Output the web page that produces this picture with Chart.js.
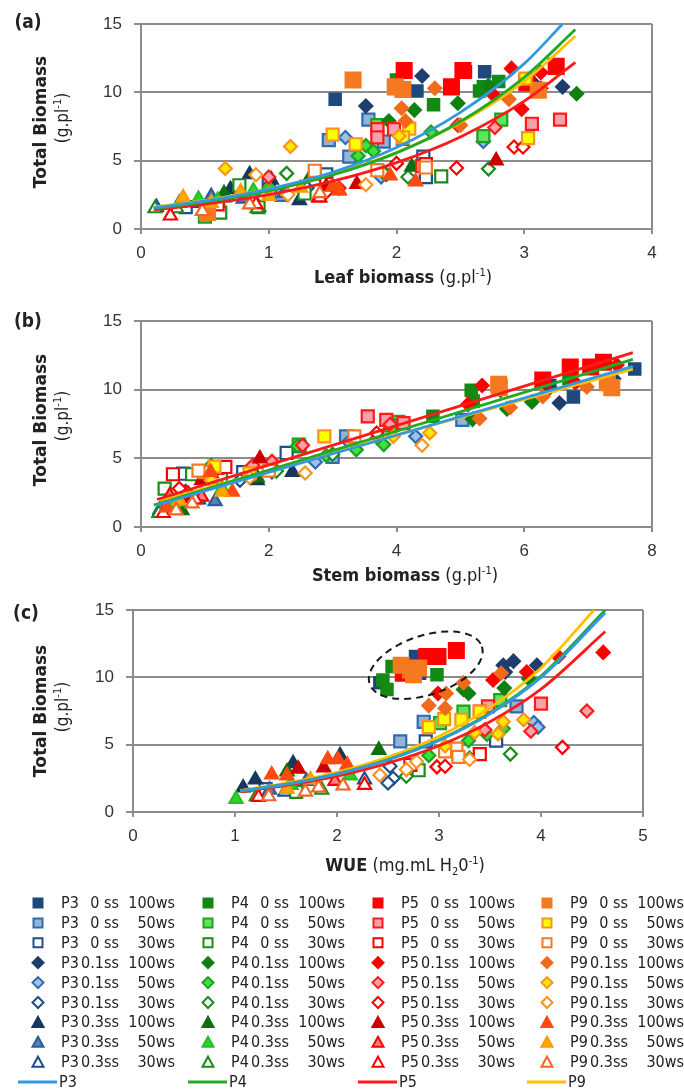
<!DOCTYPE html>
<html>
<head>
<meta charset="utf-8">
<script src="https://cdn.jsdelivr.net/npm/chart.js@4.4.1/dist/chart.umd.min.js"></script>
<style>
  body { margin: 0; background: #fff; }
  #page { position: relative; width: 684px; height: 1090px; overflow: hidden; background: #fff;
          font-family: "Liberation Sans Narrow", "DejaVu Sans Condensed", "Roboto", sans-serif; color: #222; }
  #page canvas { position: absolute; left: 0; }
  .t { position: absolute; white-space: nowrap; transform: translate(-50%, -50%); line-height: 1; }
  .panel { font-weight: bold; font-size: 19px; }
  .ytitle { transform: translate(-50%, -50%) rotate(-90deg); }
  .ybold { font-family: "DejaVu Sans", sans-serif; font-weight: bold; font-size: 17px; }
  .yunit { font-size: 17px; }
  .xtitle { font-size: 18px; }
  .xtitle b { font-weight: bold; }
  sup { font-size: 11px; vertical-align: 7px; line-height: 0; }
  sub { font-size: 11px; vertical-align: -4px; line-height: 0; }
  .lg { position: absolute; white-space: nowrap; font-size: 16px; line-height: 1; transform: translateY(-50%); }
</style>
</head>
<body>
<div id="page">
  <canvas id="chartLeaf" width="684" height="300" style="top:0px"></canvas>
  <canvas id="chartStem" width="684" height="300" style="top:297px"></canvas>
  <canvas id="chartWue" width="684" height="300" style="top:586px"></canvas>
  <canvas id="legendMarks" width="684" height="210" style="top:880px"></canvas>

  <div class="t panel" style="left:28px;top:21px">(a)</div>
  <div class="t ytitle ybold" style="left:40px;top:122px">Total Biomass</div>
  <div class="t ytitle yunit" style="left:62px;top:118px">(g.pl<sup>-1</sup>)</div>
  <div class="t xtitle" style="left:403px;top:277px"><b>Leaf biomass</b> (g.pl<sup>-1</sup>)</div>

  <div class="t panel" style="left:28px;top:320px">(b)</div>
  <div class="t ytitle ybold" style="left:40px;top:420px">Total Biomass</div>
  <div class="t ytitle yunit" style="left:62px;top:416px">(g.pl<sup>-1</sup>)</div>
  <div class="t xtitle" style="left:405px;top:575px"><b>Stem biomass</b> (g.pl<sup>-1</sup>)</div>

  <div class="t panel" style="left:26px;top:612px">(c)</div>
  <div class="t ytitle ybold" style="left:40px;top:711px">Total Biomass</div>
  <div class="t ytitle yunit" style="left:62px;top:707px">(g.pl<sup>-1</sup>)</div>
  <div class="t xtitle" style="left:405px;top:865px"><b>WUE</b> (mg.mL H<sub>2</sub>0<sup>-1</sup>)</div>

  <div id="legendText"></div>
</div>

<script>
// ---- categories ----
const plants = ['P3', 'P4', 'P5', 'P9'];
const ssLabels = ['0 ss', '0 ss', '0 ss', '0.1ss', '0.1ss', '0.1ss', '0.3ss', '0.3ss', '0.3ss'];
const wsLabels = ['100ws', '50ws', '30ws', '100ws', '50ws', '30ws', '100ws', '50ws', '30ws'];

// ---- (a) Leaf biomass vs total biomass, per treatment [x, y] ----
const leafP3 = [
  [[1.52, 9.5], [2.16, 10.1], [2.54, 11.5], [2.69, 11.5]],
  [[1.47, 6.5], [1.63, 5.3], [1.78, 8.0], [1.9, 6.4], [2.05, 6.6], [1.1, 2.5]],
  [[2.23, 3.8], [2.21, 5.3], [1.0, 3.3], [0.55, 1.6], [0.35, 1.6], [1.45, 4.0]],
  [[1.76, 9.0], [2.2, 11.2], [3.06, 10.8], [3.3, 10.4]],
  [[1.6, 6.7], [2.68, 6.4], [1.88, 3.8]],
  [[0.6, 2.0], [1.3, 3.0], [1.92, 4.0]],
  [[0.85, 4.0], [1.02, 3.6], [1.24, 2.1], [0.92, 1.6], [0.7, 2.9]],
  [[0.55, 2.4], [1.12, 2.6], [0.3, 1.9], [0.8, 2.2]],
  [[0.12, 1.6], [0.45, 1.9], [1.45, 3.0], [0.65, 2.3]]
];
const leafP4 = [
  [[2.29, 9.1], [2.65, 10.1], [2.8, 10.8], [2.0, 10.9], [2.68, 10.4]],
  [[2.82, 8.0], [2.68, 6.8], [1.85, 7.6], [0.5, 0.9]],
  [[2.35, 3.85], [0.77, 3.2], [0.62, 1.2], [0.92, 1.6], [1.28, 2.6]],
  [[1.94, 7.9], [2.14, 8.7], [2.48, 9.2], [3.41, 9.9], [2.72, 10.5]],
  [[1.76, 6.1], [1.82, 5.7], [1.7, 5.35], [2.27, 7.1]],
  [[1.14, 4.07], [2.09, 3.8], [2.72, 4.4], [1.9, 4.1]],
  [[2.12, 4.55], [1.33, 3.9], [0.65, 2.6]],
  [[0.88, 2.8], [0.45, 2.2], [1.0, 3.1], [0.6, 2.1]],
  [[0.11, 1.5], [0.91, 1.5], [0.28, 1.5]]
];
const leafP5 = [
  [[2.06, 11.6], [2.43, 10.4], [2.52, 11.6], [3.25, 11.9], [3.02, 10.7]],
  [[1.85, 7.3], [1.85, 6.7], [1.98, 7.3], [3.06, 7.7], [3.28, 8.0], [2.2, 4.6]],
  [[2.23, 4.75], [1.45, 3.3], [0.6, 1.8]],
  [[2.76, 9.8], [2.9, 11.75], [2.98, 8.77], [3.13, 11.45], [3.13, 10.3]],
  [[2.77, 7.43], [2.48, 7.6], [1.0, 3.8], [1.55, 3.0]],
  [[2.92, 6.0], [2.99, 6.0], [2.47, 4.46], [2.0, 4.8], [1.45, 2.7]],
  [[2.78, 5.0], [1.69, 3.29], [1.45, 3.1]],
  [[1.39, 2.3], [1.55, 2.8]],
  [[0.23, 0.97], [1.4, 2.3], [0.9, 1.8]]
];
const leafP9 = [
  [[1.66, 10.9], [1.99, 10.4], [2.05, 10.2], [3.11, 10.15], [0.52, 1.2]],
  [[1.5, 6.9], [1.68, 6.2], [2.1, 7.35], [3.01, 11.0], [3.03, 6.65], [2.05, 6.7]],
  [[1.36, 4.26], [1.85, 4.3], [2.23, 4.5]],
  [[2.04, 8.84], [2.07, 7.9], [2.3, 10.3], [2.88, 9.5], [2.5, 7.6]],
  [[0.66, 4.43], [1.17, 6.04], [2.02, 6.8]],
  [[1.76, 3.24], [0.9, 3.97], [1.15, 2.5]],
  [[1.55, 2.85], [1.95, 3.9], [2.15, 3.46], [1.5, 3.1]],
  [[0.33, 2.3], [0.78, 2.73], [1.25, 3.0], [0.55, 1.9], [1.0, 2.4]],
  [[0.85, 1.78], [1.4, 2.6], [0.48, 1.3]]
];
// trend curves
const leafFitP3 = [[0.1, 1.55], [0.5, 2.05], [1, 2.92], [1.5, 4.15], [2, 5.96], [2.5, 8.53], [3, 12.1], [3.3, 15.0]];
const leafFitP4 = [[0.1, 1.5], [0.5, 1.98], [1, 2.79], [1.5, 3.95], [2, 5.57], [2.5, 7.87], [3, 11.1], [3.4, 14.6]];
const leafFitP5 = [[0.1, 1.4], [0.5, 1.82], [1, 2.52], [1.5, 3.5], [2, 4.86], [2.5, 6.74], [3, 9.36], [3.4, 12.2]];
const leafFitP9 = [[0.1, 1.6], [0.5, 2.09], [1, 2.91], [1.5, 4.03], [2, 5.6], [2.5, 7.79], [3, 10.8], [3.4, 14.1]];

// ---- (b) Stem biomass ----
const stemP3 = [
  [[7.73, 11.5], [6.77, 9.47], [6.4, 10.3]],
  [[5.03, 7.8], [3.21, 6.6], [3.0, 5.1]],
  [[2.28, 5.39], [0.66, 3.88], [1.6, 4.0]],
  [[6.55, 9.03], [7.4, 10.8], [6.4, 10.15]],
  [[4.3, 6.6], [3.25, 6.2], [2.73, 4.73], [3.7, 6.5]],
  [[1.55, 3.4], [2.05, 4.0], [0.7, 2.6]],
  [[2.37, 4.0], [1.82, 3.4], [0.5, 1.6]],
  [[1.16, 1.87], [0.6, 2.2], [0.3, 1.3]],
  [[0.3, 1.2], [0.9, 2.0]]
];
const stemP4 = [
  [[5.17, 9.95], [5.2, 9.17], [4.57, 8.06], [2.49, 5.87], [6.7, 10.8]],
  [[4.03, 7.65], [2.47, 6.0], [3.9, 7.4]],
  [[0.37, 2.79], [0.8, 3.84], [1.25, 3.6]],
  [[5.63, 9.95], [6.12, 9.1], [5.19, 7.84], [5.73, 8.6]],
  [[3.8, 6.0], [3.37, 5.63], [2.9, 5.2], [2.45, 5.9]],
  [[2.12, 4.07], [1.1, 4.49], [3.0, 5.3]],
  [[1.82, 3.6], [0.64, 1.2], [1.1, 3.9]],
  [[1.27, 2.8], [0.5, 1.8]],
  [[0.28, 1.0], [0.75, 1.8]]
];
const stemP5 = [
  [[7.24, 12.0], [6.72, 11.65], [7.04, 11.65], [6.29, 10.7]],
  [[3.55, 8.06], [3.84, 7.8], [4.11, 7.57], [1.2, 4.3]],
  [[0.5, 3.84], [1.32, 4.37], [0.65, 2.5]],
  [[5.34, 10.3], [7.45, 11.8], [5.12, 8.93], [6.8, 10.5]],
  [[2.53, 5.95], [3.9, 7.48], [2.05, 4.78], [1.75, 4.5]],
  [[3.69, 6.84], [1.1, 3.8], [0.6, 2.8]],
  [[1.86, 4.98], [0.95, 3.4], [0.8, 2.1]],
  [[0.45, 2.3], [0.95, 2.2]],
  [[0.35, 1.0], [0.85, 2.0]]
];
const stemP9 = [
  [[5.61, 10.15], [7.37, 10.15], [7.3, 10.5], [5.6, 10.4]],
  [[2.87, 6.6], [1.15, 4.4], [1.7, 3.9]],
  [[3.34, 6.6], [1.0, 4.0], [2.0, 4.1], [0.9, 4.1]],
  [[5.3, 7.9], [6.29, 9.5], [6.98, 10.2], [5.78, 8.7]],
  [[4.52, 6.84], [3.95, 6.6], [1.1, 3.4]],
  [[4.4, 5.95], [2.57, 3.93], [1.7, 3.6]],
  [[1.09, 4.0], [1.43, 2.55], [0.4, 1.4]],
  [[1.27, 2.55], [0.6, 1.9]],
  [[0.55, 1.2], [0.8, 1.7]]
];
const stemFitP3 = [[0.25, 1.6], [7.7, 11.7]];
const stemFitP4 = [[0.2, 1.6], [7.7, 12.2]];
const stemFitP5 = [[0.25, 2.0], [7.7, 12.7]];
const stemFitP9 = [[0.3, 1.9], [7.7, 11.5]];

// ---- (c) WUE ----
const wueP3 = [
  [[2.77, 11.55], [2.81, 10.3], [2.42, 9.6]],
  [[2.85, 6.7], [2.62, 5.25], [3.76, 7.85]],
  [[3.56, 5.3], [2.87, 5.25], [1.3, 1.7]],
  [[3.63, 10.9], [3.73, 11.2], [3.96, 10.9], [3.65, 10.4]],
  [[3.93, 6.65], [3.97, 6.3]],
  [[2.55, 2.5], [2.52, 3.4], [2.5, 2.15]],
  [[1.08, 1.8], [1.2, 2.4], [1.57, 3.6], [2.03, 4.2]],
  [[1.34, 1.65], [1.7, 2.3]],
  [[1.49, 1.5], [2.27, 2.4]]
];
const wueP4 = [
  [[2.98, 10.2], [2.54, 10.8], [2.45, 9.8], [2.49, 9.1]],
  [[3.24, 7.45], [3.6, 8.3], [3.01, 6.6]],
  [[2.8, 3.1], [1.6, 1.5]],
  [[3.29, 8.8], [3.64, 9.2], [3.88, 9.9], [3.24, 9.1]],
  [[3.29, 5.3], [3.47, 5.75], [3.63, 6.2], [2.9, 4.2]],
  [[3.7, 4.3], [3.3, 4.0], [2.68, 2.65]],
  [[1.51, 3.0], [2.41, 4.6]],
  [[1.01, 0.96], [2.13, 2.7], [1.55, 2.0]],
  [[1.21, 1.15], [1.85, 1.65]]
];
const wueP5 = [
  [[2.88, 11.55], [2.99, 11.55], [3.17, 12.0], [2.65, 10.3]],
  [[4.0, 8.05], [3.48, 7.85], [3.4, 7.45]],
  [[3.4, 4.3], [2.72, 3.5]],
  [[3.53, 9.8], [3.86, 10.4], [4.17, 11.55], [4.61, 11.85], [2.99, 8.8]],
  [[3.9, 6.0], [3.45, 6.1], [4.45, 7.5]],
  [[4.21, 4.8], [2.98, 3.35], [3.06, 3.4]],
  [[1.62, 3.2], [1.87, 3.3]],
  [[1.98, 2.3]],
  [[2.27, 2.0], [1.23, 1.1]]
];
const wueP9 = [
  [[2.63, 10.9], [2.72, 10.55], [2.8, 10.7], [2.75, 10.2]],
  [[2.9, 6.3], [3.05, 6.9], [3.22, 6.85], [3.4, 7.45]],
  [[3.17, 4.7], [3.19, 4.1], [3.06, 4.5]],
  [[3.61, 10.3], [3.24, 9.6], [3.07, 8.8], [2.9, 7.9], [3.06, 7.7]],
  [[3.63, 6.7], [3.83, 6.85], [3.58, 5.8], [3.35, 5.9], [3.06, 4.9]],
  [[2.68, 3.15], [2.78, 3.75], [2.42, 2.75], [3.3, 3.9]],
  [[1.36, 2.77], [1.51, 2.7], [1.91, 3.9], [2.01, 3.9], [2.1, 3.5]],
  [[1.74, 2.4], [1.51, 1.7]],
  [[1.33, 1.15], [1.82, 1.8], [2.06, 1.95], [1.69, 1.5]]
];
const wueFitP3 = [[1.05, 1.55], [1.5, 2.06], [2, 2.82], [2.5, 3.87], [3, 5.31], [3.5, 7.29], [4, 10.0], [4.63, 14.8]];
const wueFitP4 = [[1.05, 1.55], [1.5, 2.07], [2, 2.84], [2.5, 3.9], [3, 5.36], [3.5, 7.36], [4, 10.1], [4.63, 15.0]];
const wueFitP5 = [[1.05, 1.5], [1.5, 1.97], [2, 2.66], [2.5, 3.63], [3, 4.92], [3.5, 6.7], [4, 9.12], [4.63, 13.4]];
const wueFitP9 = [[1.05, 1.6], [1.5, 2.14], [2, 2.95], [2.5, 4.07], [3, 5.62], [3.5, 7.75], [4, 10.7], [4.52, 15.0]];

// dashed ring around the 0ss 100ws group in (c): centre and half-axes in axis units
const ringCentre = [2.87, 10.9];
const ringHalfAxes = [0.58, 2.2];

// ---- styles ----
const GRAY = '#8c8c8c';
const lineColors = ['#3399dd', '#22aa22', '#ff1a1a', '#ffc000'];
const shapes = ['rect', 'rect', 'rect', 'rectRot', 'rectRot', 'rectRot', 'triangle', 'triangle', 'triangle'];
const fills = [
  ['#1f497d', '#95b3d7', '#ffffff', '#1f3d6e', '#9dc3e6', '#ffffff', '#17375e', '#4f81bd', '#ffffff'],
  ['#138a13', '#5ce65c', '#ffffff', '#108010', '#3de03d', '#ffffff', '#0e700e', '#2fd02f', '#ffffff'],
  ['#ff0000', '#f7a1aa', '#ffffff', '#ff0000', '#f7a1aa', '#ffffff', '#cc0000', '#ff8080', '#ffffff'],
  ['#f47920', '#ffff00', '#ffffff', '#f26a1b', '#ffe600', '#ffffff', '#ff4a10', '#ffa800', '#ffffff']
];
const borders = [
  ['#1f497d', '#2e6bb0', '#1f4e8c', '#1f3d6e', '#2e6bb0', '#1f4e8c', '#17375e', '#2e5e96', '#1f4e8c'],
  ['#138a13', '#1fa01f', '#1a8c1a', '#108010', '#1fa01f', '#1a8c1a', '#0e700e', '#22c022', '#1a8c1a'],
  ['#ff0000', '#ff1a1a', '#ff0000', '#ff0000', '#ff1a1a', '#ff0000', '#cc0000', '#ff0000', '#ff0000'],
  ['#f47920', '#f7941d', '#f47920', '#f26a1b', '#f7941d', '#f7941d', '#ff4a10', '#ff9a00', '#f26522']
];
const radii = [8.5, 8.5, 8.5, 6.5, 6.5, 6.5, 7.5, 7.5, 7.5];

Chart.defaults.font.family = '"Liberation Sans", Arial, sans-serif';
Chart.defaults.color = '#333';

function toXY(pts) {
  return pts.map(([x, y]) => ({ x, y }));
}

function markerRadius(p, t) {
  if (t === 0) return p >= 2 ? 10.5 : 8;
  return radii[t];
}

const ringPlugin = {
  id: 'ring',
  afterDatasetsDraw(chart) {
    const xs = chart.scales.x, ys = chart.scales.y, ctx = chart.ctx;
    const cx = xs.getPixelForValue(ringCentre[0]);
    const cy = ys.getPixelForValue(ringCentre[1]);
    const rx = xs.getPixelForValue(ringCentre[0] + ringHalfAxes[0]) - cx;
    const ry = cy - ys.getPixelForValue(ringCentre[1] + ringHalfAxes[1]);
    ctx.save();
    ctx.setLineDash([7, 5]);
    ctx.lineWidth = 2;
    ctx.strokeStyle = '#1a1a1a';
    ctx.beginPath();
    ctx.ellipse(cx, cy, rx, ry, -0.32, 0, Math.PI * 2);
    ctx.stroke();
    ctx.restore();
  }
};

function buildChart(id, groups, fits, xMax, xStep, box, extraPlugins) {
  const datasets = [];
  fits.forEach((pts, p) => {
    datasets.push({
      data: toXY(pts), showLine: true, borderColor: lineColors[p], borderWidth: 2.8,
      pointRadius: 0, fill: false, cubicInterpolationMode: 'monotone', order: 0
    });
  });
  groups.forEach((treatments, p) => {
    treatments.forEach((pts, t) => {
      datasets.push({
        data: toXY(pts), pointStyle: shapes[t], pointRadius: markerRadius(p, t),
        backgroundColor: fills[p][t], borderColor: borders[p][t], borderWidth: 2.2,
        order: 1 + (3 - p) * 9 + (8 - t)
      });
    });
  });

  return new Chart(document.getElementById(id), {
    type: 'scatter',
    data: { datasets },
    plugins: extraPlugins || [],
    options: {
      responsive: false,
      animation: false,
      events: [],
      layout: { padding: { left: 0, top: box.top, right: 684 - box.right, bottom: 0 } },
      plugins: { legend: { display: false }, tooltip: { enabled: false } },
      scales: {
        x: {
          type: 'linear', min: 0, max: xMax,
          ticks: { stepSize: xStep, font: { size: 17 }, padding: 9, color: '#333' },
          grid: {
            drawOnChartArea: true, lineWidth: 2, tickLength: 5, tickColor: GRAY,
            color: (c) => (c.tick && c.tick.value === xMax ? GRAY : 'rgba(0,0,0,0)')
          },
          border: { display: true, color: GRAY, width: 2 },
          afterFit: (s) => { s.height = box.h - box.bottom; }
        },
        y: {
          min: 0, max: 15,
          ticks: { stepSize: 5, font: { size: 17 }, padding: 12, color: '#333' },
          grid: { color: GRAY, lineWidth: 2, tickLength: 7, tickColor: GRAY },
          border: { display: true, color: GRAY, width: 2 },
          afterFit: (s) => { s.width = box.left; }
        }
      }
    }
  });
}

buildChart('chartLeaf', [leafP3, leafP4, leafP5, leafP9], [leafFitP3, leafFitP4, leafFitP5, leafFitP9],
  4, 1, { left: 141, right: 652, top: 24, bottom: 229, h: 300 });
buildChart('chartStem', [stemP3, stemP4, stemP5, stemP9], [stemFitP3, stemFitP4, stemFitP5, stemFitP9],
  8, 2, { left: 141, right: 652, top: 24, bottom: 230, h: 300 });
buildChart('chartWue', [wueP3, wueP4, wueP5, wueP9], [wueFitP3, wueFitP4, wueFitP5, wueFitP9],
  5, 1, { left: 133, right: 643, top: 24, bottom: 226, h: 300 }, [ringPlugin]);

// ---- legend (markers on a small canvas, text as html) ----
const legendCols = [38, 208, 378, 547];
const legendTop = 23;     // first row centre inside the legend canvas (page y 903)
const legendStep = 19.9;

function drawMarker(ctx, shape, x, y, fill, stroke) {
  ctx.beginPath();
  if (shape === 'rect') {
    ctx.rect(x - 4.5, y - 4.5, 9, 9);
  } else if (shape === 'rectRot') {
    ctx.moveTo(x, y - 5.5); ctx.lineTo(x + 5.5, y); ctx.lineTo(x, y + 5.5); ctx.lineTo(x - 5.5, y);
    ctx.closePath();
  } else {
    ctx.moveTo(x, y - 5.5); ctx.lineTo(x + 5.5, y + 4.5); ctx.lineTo(x - 5.5, y + 4.5);
    ctx.closePath();
  }
  ctx.fillStyle = fill;
  ctx.fill();
  ctx.lineWidth = 2;
  ctx.strokeStyle = stroke;
  ctx.stroke();
}

const lctx = document.getElementById('legendMarks').getContext('2d');
const legendText = document.getElementById('legendText');
let html = '';
plants.forEach((name, p) => {
  const cx = legendCols[p];
  for (let t = 0; t < 9; t++) {
    const y = legendTop + t * legendStep;
    drawMarker(lctx, shapes[t], cx, y, fills[p][t], borders[p][t]);
    const py = 880 + y;
    html += `<div class="lg" style="left:${cx + 23}px;top:${py}px">${name}</div>`;
    html += `<div class="lg" style="left:${cx + 23}px;width:58px;text-align:right;top:${py}px">${ssLabels[t]}</div>`;
    html += `<div class="lg" style="left:${cx + 23}px;width:114px;text-align:right;top:${py}px">${wsLabels[t]}</div>`;
  }
  const ly = legendTop + 9 * legendStep;
  lctx.beginPath();
  lctx.moveTo(cx - 20, ly); lctx.lineTo(cx + 19, ly);
  lctx.lineWidth = 3; lctx.strokeStyle = lineColors[p]; lctx.stroke();
  html += `<div class="lg" style="left:${cx + 21}px;top:${880 + ly}px">${name}</div>`;
});
legendText.innerHTML = html;
</script>
</body>
</html>
